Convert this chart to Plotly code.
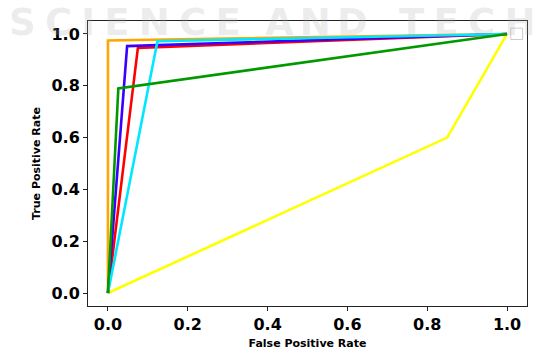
import plotly.graph_objects as go

# ROC curves (false positive rate, true positive rate)
yellow_fpr = [0.0, 0.85, 1.0]
yellow_tpr = [0.0, 0.60, 1.0]
orange_fpr = [0.0, 0.0, 1.0]
orange_tpr = [0.0, 0.975, 1.0]
red_fpr = [0.0, 0.075, 1.0]
red_tpr = [0.0, 0.946, 1.0]
blue_fpr = [0.0, 0.048, 1.0]
blue_tpr = [0.0, 0.953, 1.0]
cyan_fpr = [0.0, 0.124, 1.0]
cyan_tpr = [0.0, 0.972, 1.0]
green_fpr = [0.0, 0.026, 1.0]
green_tpr = [0.0, 0.79, 1.0]

tick_vals = [0.0, 0.2, 0.4, 0.6, 0.8, 1.0]
tick_text = ["0.0", "0.2", "0.4", "0.6", "0.8", "1.0"]

watermark_words = ["SCIENCE", "AND", "TECH"]

series = [
    (yellow_fpr, yellow_tpr, "#ffff00"),
    (orange_fpr, orange_tpr, "#ffa500"),
    (red_fpr, red_tpr, "#ff0000"),
    (blue_fpr, blue_tpr, "#3a00ff"),
    (cyan_fpr, cyan_tpr, "#00e8ff"),
    (green_fpr, green_tpr, "#009a00"),
]

fig = go.Figure()
for x, y, c in series:
    fig.add_trace(go.Scatter(x=x, y=y, mode="lines", line=dict(color=c, width=2.6),
                             showlegend=False, hoverinfo="skip"))

axis_common = dict(
    range=[-0.05, 1.05], tickmode="array", tickvals=tick_vals, ticktext=tick_text,
    showgrid=False, zeroline=False, showline=True, linecolor="#222222", linewidth=1,
    mirror=True, ticks="outside", ticklen=4, tickcolor="#222222", automargin=False,
    tickfont=dict(family="DejaVu Sans", size=16, color="black", weight="bold"),
)

# faint watermark words (letter-spaced), positioned in paper coordinates
wm_x = [-0.1845, 0.3986, 0.7039]
wm_gap = ["\u2005", "\u2006", "\u2005"]
annotations = []
for word, x0, gap in zip(watermark_words, wm_x, wm_gap):
    annotations.append(dict(text=gap.join(word), xref="paper", yref="paper",
                            x=x0, y=0.995, xanchor="left", yanchor="middle", showarrow=False,
                            font=dict(family="DejaVu Sans", size=37, weight="bold",
                                      color="rgba(170,170,170,0.22)")))

fig.update_layout(
    width=534, height=356,
    margin=dict(l=88, r=7, t=21, b=50),
    paper_bgcolor="white", plot_bgcolor="white",
    xaxis=dict(**axis_common, title=dict(text="<b>False Positive Rate</b>",
               font=dict(family="DejaVu Sans", size=11, color="black"), standoff=6)),
    yaxis=dict(**axis_common, title=dict(text="<b>True Positive Rate</b>",
               font=dict(family="DejaVu Sans", size=11, color="black"), standoff=8)),
    annotations=annotations,
    shapes=[dict(type="rect", xref="paper", yref="paper", x0=0.963, x1=0.99, y0=0.935, y1=0.975,
                 line=dict(color="#cccccc", width=1), fillcolor="white")],
)

fig.write_html("out.html", config={"displayModeBar": False},
               post_script="document.body.style.margin='0';")
